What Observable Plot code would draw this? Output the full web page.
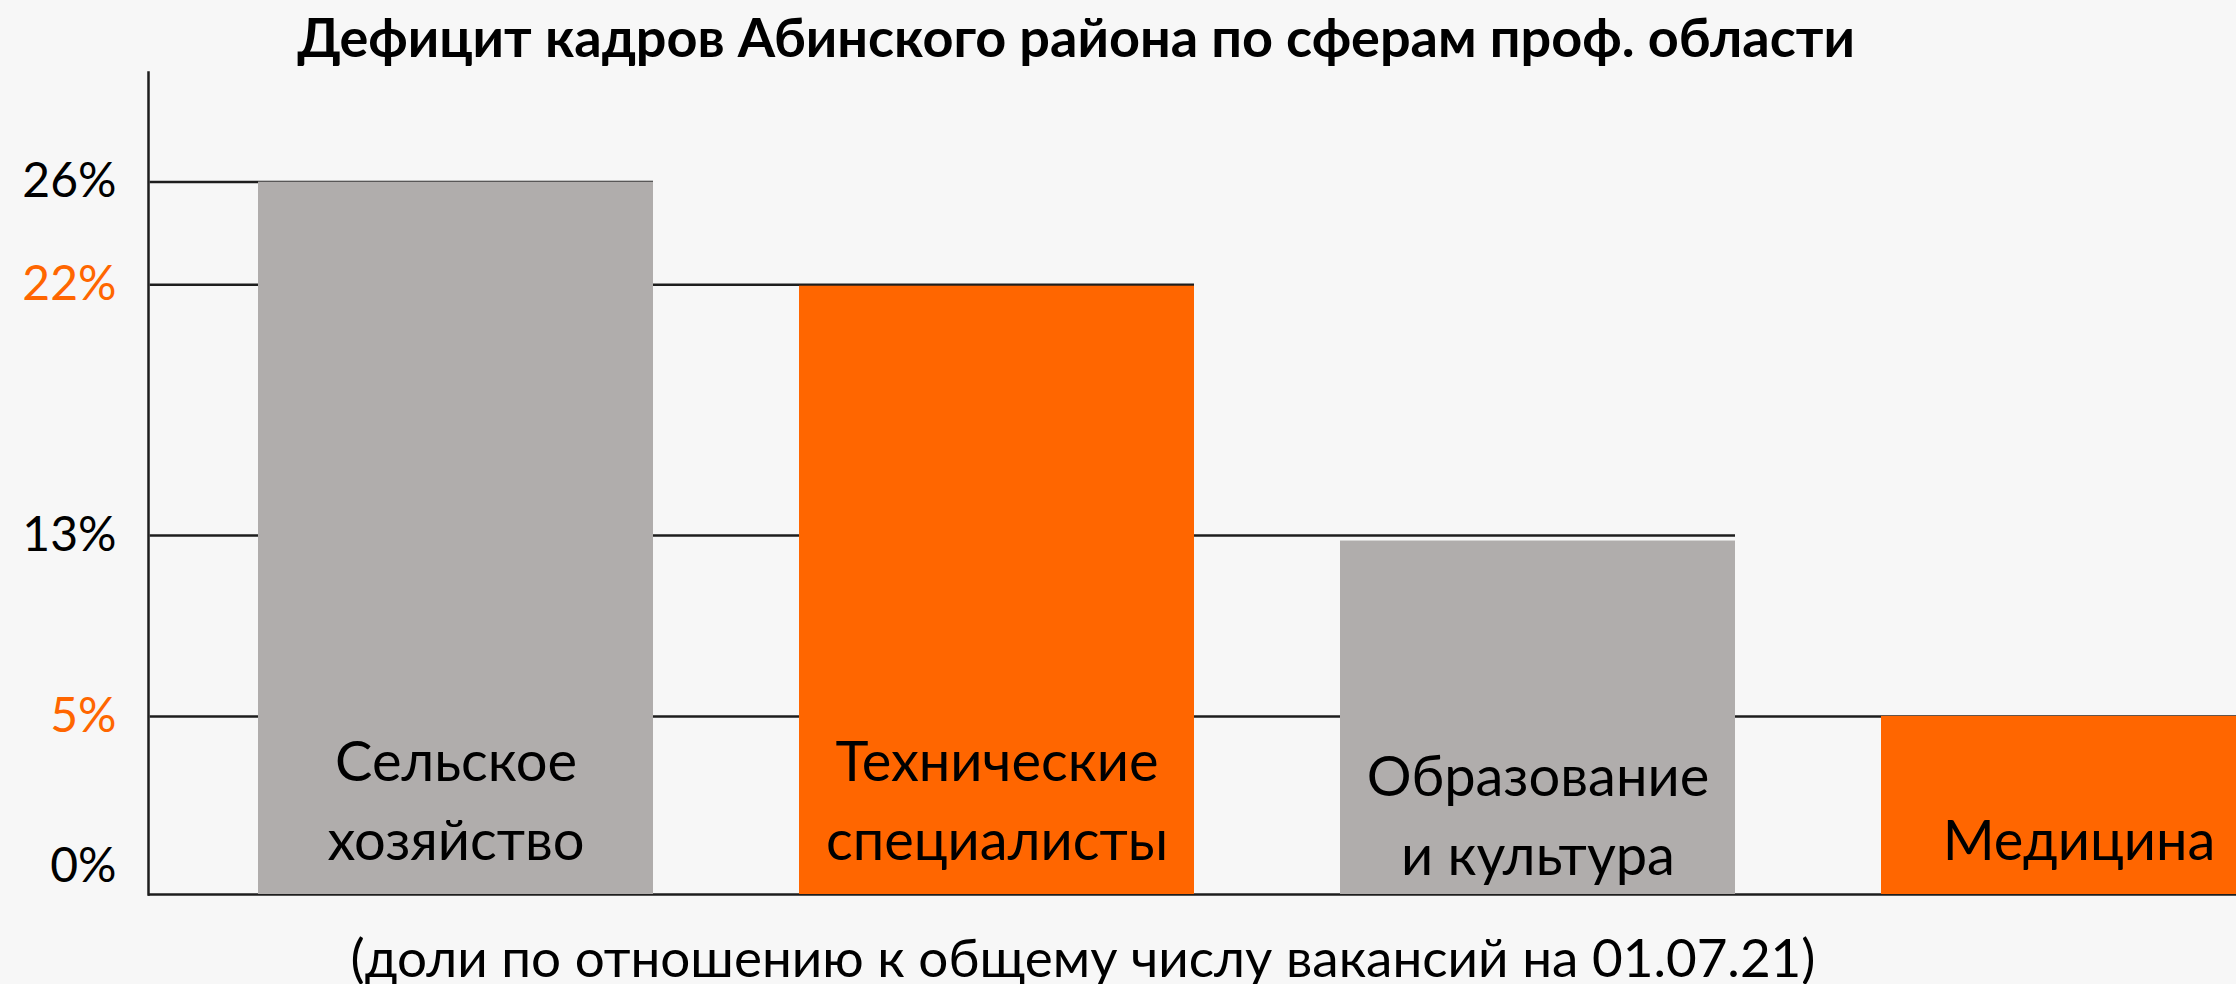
<!DOCTYPE html>
<html><head><meta charset="utf-8">
<script src="https://cdn.jsdelivr.net/npm/d3@7"></script>
<script src="https://cdn.jsdelivr.net/npm/@observablehq/plot@0.6"></script>
<style>
html,body{margin:0;padding:0;background:#f7f7f7;overflow:hidden;}
#wrap{position:relative;width:2236px;height:984px;font-family:Lato,sans-serif;color:#000;}
#title{position:absolute;left:0;width:2152px;top:5px;text-align:center;font-weight:700;font-size:54px;line-height:1.2;white-space:nowrap;}
#chart{position:absolute;left:0;top:70px;}
#caption{position:absolute;left:0;width:2166px;top:925px;text-align:center;font-size:53px;line-height:1.2;white-space:nowrap;}
</style></head><body>
<div id="wrap"><div id="title"></div><div id="chart"></div><div id="caption"></div></div>
<script>
const titleText = "Дефицит кадров Абинского района по сферам проф. области";
const captionText = "(доли по отношению к общему числу вакансий на 01.07.21)";
const categories = ["Сельское\nхозяйство", "Технические\nспециалисты", "Образование\nи культура", "Медицина"];
const shares = [26, 22.2, 12.9, 6.5];
const gridLevels = [26, 22.25, 13.1, 6.5];
const tickLabels = ["26%", "22%", "13%", "5%"];
const zeroLabel = "0%";

document.getElementById("title").textContent = titleText;
document.getElementById("caption").textContent = captionText;

const GRAY = "#b0adac", ORANGE = "#ff6600", INK = "#1e1e1e";
const rows = categories.map((c, i) => ({category: c, share: shares[i], grid: gridLevels[i], label: tickLabels[i], idx: i}));
const fmt = v => { const r = rows.find(d => d.grid === v); return r ? r.label : zeroLabel; };

const MARGIN_LEFT = 148;
const xOptions = {type: "band", domain: categories, range: [MARGIN_LEFT, 2386], paddingInner: 0.27, paddingOuter: 0.2};
// distance from the axis to the first band, taken from the library's own scale
const lead = Plot.scale({x: xOptions}).apply(categories[0]) - MARGIN_LEFT;

const plot = Plot.plot({
  width: 2236, height: 850,
  marginTop: 2, marginBottom: 26, marginLeft: MARGIN_LEFT, marginRight: 0,
  style: {background: "transparent", fontFamily: "Lato, sans-serif", fontSize: "48px", color: "#000", overflow: "visible"},
  x: {...xOptions, axis: null},
  y: {domain: [0, 30]},
  color: {type: "identity"},
  marks: [
    Plot.ruleY([0], {stroke: INK, strokeWidth: 2.5}),
    Plot.ruleY(rows, {y: "grid", x1: () => categories[0], x2: "category", insetLeft: -lead, stroke: INK, strokeWidth: 2.5}),
    Plot.barY(rows, {x: "category", y: "share", fill: d => d.idx % 2 ? ORANGE : GRAY}),
    Plot.frame({anchor: "left", stroke: INK, strokeWidth: 2.5}),
    Plot.axisY({ticks: rows.filter(d => d.idx % 2 === 0).map(d => d.grid), tickFormat: fmt, tickSize: 0, tickPadding: 32, color: "#000", label: null}),
    Plot.axisY({ticks: rows.filter(d => d.idx % 2 === 1).map(d => d.grid), tickFormat: fmt, tickSize: 0, tickPadding: 32, color: ORANGE, label: null}),
    Plot.axisY({ticks: [0], tickFormat: fmt, tickSize: 0, tickPadding: 32, color: "#000", label: null, dy: -28}),
    Plot.text(rows.filter(d => d.idx !== 2), {x: "category", frameAnchor: "bottom", text: "category", lineAnchor: "bottom", lineHeight: 1.4, fontSize: 56, dy: -35, fill: "#000"}),
    Plot.text(rows.filter(d => d.idx === 2), {x: "category", frameAnchor: "bottom", text: "category", lineAnchor: "bottom", lineHeight: 1.4, fontSize: 56, dy: -20, fill: "#000"})
  ]
});
document.getElementById("chart").appendChild(plot);
</script>
</body></html>
